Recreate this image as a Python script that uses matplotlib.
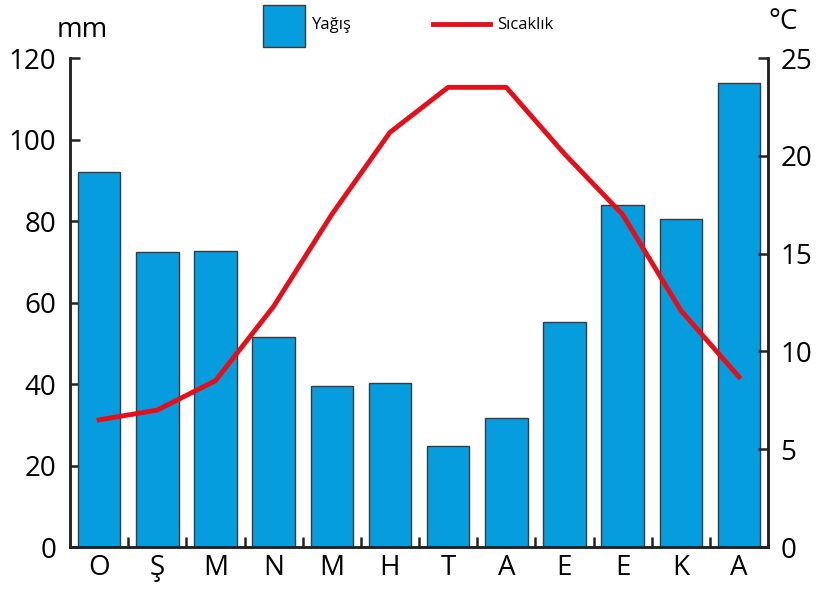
import matplotlib
matplotlib.use("Agg")
import matplotlib.pyplot as plt
from matplotlib.patches import Rectangle
from matplotlib.lines import Line2D
import numpy as np

plt.rcParams['font.family'] = ['Open Sans', 'DejaVu Sans']

# monthly data
months = ['O', 'Ş', 'M', 'N', 'M', 'H', 'T', 'A', 'E', 'E', 'K', 'A']
rain_mm = [92.0, 72.4, 72.6, 51.5, 39.5, 40.2, 24.8, 31.7, 55.2, 83.9, 80.5, 113.9]
temp_c = [6.5, 7.0, 8.5, 12.3, 17.0, 21.2, 23.5, 23.5, 20.1, 17.0, 12.1, 8.7]

bar_color = '#069ddf'
line_color = '#e3101b'
spine_color = '#222222'

fig = plt.figure(figsize=(8.18, 5.92), dpi=100)
ax = fig.add_axes([0.0856, 0.076, 0.8533, 0.826])
ax2 = ax.twinx()

x = np.arange(len(months))
ax.bar(x, rain_mm, width=0.73, color=bar_color, edgecolor='#3a3a3a', linewidth=1.0, zorder=2)
ax2.plot(x, temp_c, color=line_color, linewidth=3.5, solid_joinstyle='round', zorder=3)

ax.set_xlim(-0.5, len(months) - 0.5)
ax.set_ylim(0, 120)
ax2.set_ylim(0, 25)

ax.set_yticks(np.arange(0, 121, 20))
ax2.set_yticks(np.arange(0, 26, 5))
ax.set_xticks(x)
ax.set_xticklabels(months)
ax.set_xticks(np.arange(0.5, len(months) - 1, 1.0), minor=True)

for a in (ax, ax2):
    a.spines['top'].set_visible(False)
    for s in ('left', 'right', 'bottom'):
        a.spines[s].set_color(spine_color)
        a.spines[s].set_linewidth(1.8)

ax.tick_params(axis='y', direction='in', length=7, width=1.8, color=spine_color,
               labelsize=20, pad=10)
ax2.tick_params(axis='y', direction='in', length=7, width=1.8, color=spine_color,
                labelsize=20, pad=9)
ax.tick_params(axis='x', which='major', length=0, labelsize=20, pad=5)
ax.tick_params(axis='x', which='minor', direction='in', length=7, width=1.8, color=spine_color)

fig.text(0.101, 0.95, 'mm', fontsize=20, ha='center', va='center')
fig.text(0.957, 0.962, '°C', fontsize=20, ha='center', va='center')

# legend drawn in figure coordinates
fig.add_artist(Rectangle((263 / 818, 1 - 47 / 592), 42 / 818, 42 / 592,
                         transform=fig.transFigure, facecolor=bar_color,
                         edgecolor='#3a3a3a', linewidth=1.0))
fig.text(312 / 818, 1 - 25 / 592, 'Yağış', fontsize=12, ha='left', va='center')
fig.add_artist(Line2D([433 / 818, 490 / 818], [1 - 24 / 592, 1 - 24 / 592],
                      transform=fig.transFigure, color=line_color, linewidth=3.5))
fig.text(497 / 818, 1 - 25 / 592, 'Sıcaklık', fontsize=12, ha='left', va='center')

fig.savefig('out.png', dpi=100)
